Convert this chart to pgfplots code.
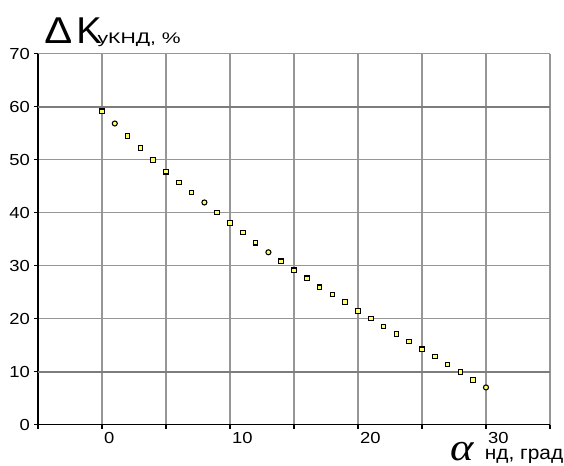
\documentclass[border=0pt]{standalone}
\usepackage{fontspec}
\setmainfont{Liberation Sans}
\newfontfamily\serifit{Liberation Serif}[ItalicFont={Liberation Serif Italic}]
\usepackage{graphicx}
\usepackage{pgfplots}
\pgfplotsset{compat=1.18}
\definecolor{gridgray}{RGB}{150,150,150}
\definecolor{griddark}{RGB}{125,125,125}
\definecolor{mkfill}{RGB}{255,255,110}
\newcommand\tl[1]{\scalebox{1.15}[1]{#1}}
\begin{document}
\begin{tikzpicture}
\path[use as bounding box] (-28.5pt,-31.1pt) rectangle (394.5pt,318.4pt);
\begin{axis}[
  at={(0,0)}, anchor=south west,
  scale only axis, width=384pt, height=278.25pt,
  xmin=-5, xmax=35, ymin=0, ymax=70,
  axis x line=bottom, axis y line=left,
  axis line style={black, line width=0.9pt, -},
  xtick={-5,0,5,10,15,20,25,30,35},
  xticklabels={,\tl{0},,\tl{10},,\tl{20},,\tl{30},},
  ytick={0,10,20,30,40,50,60,70},
  yticklabels={\tl{0},\tl{10},\tl{20},\tl{30},\tl{40},\tl{50},\tl{60},\tl{70}},
  extra y ticks={10,60}, extra y tick labels={},
  extra y tick style={grid=major, major grid style={griddark, line width=1.5pt}, major tick length=0pt},
  tick align=outside, major tick length=3pt,
  tick style={black, line width=0.8pt},
  grid=major,
  major grid style={gridgray, line width=0.9pt},
  ticklabel style={font=\fontsize{12}{12}\selectfont},
  xticklabel style={anchor=north west, xshift=-2pt, yshift=1pt},
  yticklabel style={xshift=0.5pt},
  /pgf/number format/assume math mode=true,
  clip=false,
]
\addplot[only marks, mark=square*, mark size=1.7pt,
  mark options={draw=black, fill=mkfill, line width=0.8pt}] coordinates {
(0,59.1) (2,54.4) (3,52.2) (4,49.9) (5,47.7) (6,45.7) (7,43.8)
(9,40.0) (10,38.0) (11,36.2) (12,34.3) (14,30.8) (15,29.1)
(16,27.6) (17,25.9) (18,24.5) (19,23.1) (20,21.4) (21,20.0) (22,18.5)
(23,17.1) (24,15.7) (25,14.2) (26,12.8) (27,11.3) (28,9.9) (29,8.4)
};
\addplot[only marks, mark=*, mark size=1.9pt,
  mark options={draw=black, fill=mkfill, line width=0.8pt}] coordinates {
(1,56.8) (8,41.9) (13,32.5) (30,7.0)
};
\end{axis}
\node[anchor=base west, inner sep=0pt] at (4.5pt,286pt)
  {\scalebox{1.12}[1]{\fontsize{28}{28}\selectfont Δ}};
\node[anchor=base west, inner sep=0pt] at (28.5pt,286pt)
  {\scalebox{1.02}[1]{\fontsize{28}{28}\selectfont K}};
\node[anchor=base west, inner sep=0pt] at (44.5pt,286pt)
  {\scalebox{1.38}[1]{\fontsize{11.5}{11.5}\selectfont уКНД, \%}};
\node[anchor=base west, inner sep=0pt] at (309.5pt,-27.3pt)
  {\scalebox{1.15}[1]{\fontsize{29}{29}\selectfont\serifit\itshape α}};
\node[anchor=base west, inner sep=0pt] at (335pt,-26.3pt)
  {\scalebox{1.08}[1]{\fontsize{14.5}{14.5}\selectfont нд, град}};
\end{tikzpicture}
\end{document}
